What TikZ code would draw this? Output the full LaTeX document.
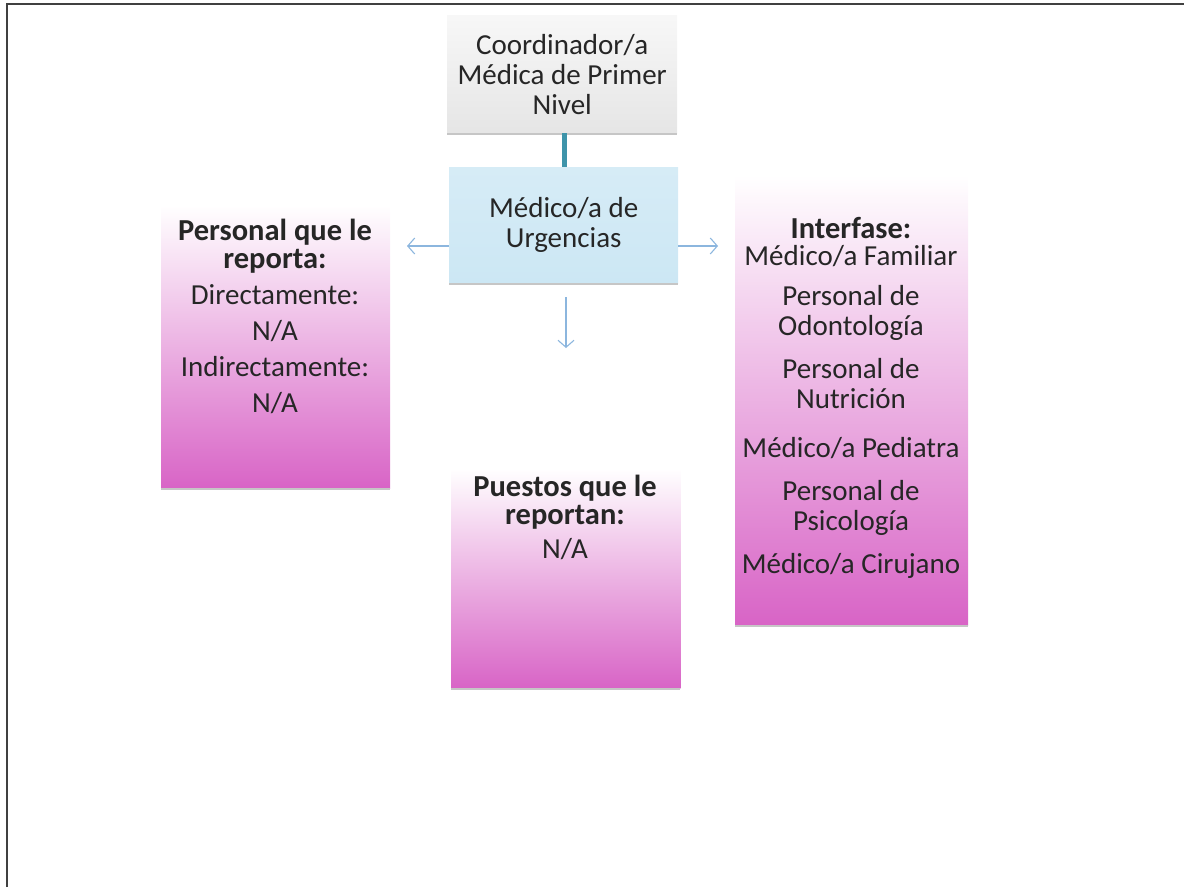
\documentclass[tikz,border=0pt]{standalone}
\usepackage{fontspec}
\setmainfont{Carlito}
\usepackage{tikz}
\usetikzlibrary{arrows.meta}
\definecolor{boxpink}{RGB}{216,100,198}
\definecolor{paleblue}{RGB}{204,231,244}
\definecolor{linkteal}{RGB}{62,148,170}
\definecolor{arrblue}{RGB}{140,182,222}
\definecolor{txtgray}{RGB}{38,38,38}
\tikzset{
  pinkbox/.style={inner sep=0pt, anchor=north west, top color=white, bottom color=boxpink},
  whitebox/.style={inner sep=0pt, anchor=north west, fill=white},
  graybox/.style={inner sep=0pt, anchor=north west, top color=gray!6, bottom color=gray!20},
  bluebox/.style={inner sep=0pt, anchor=north west, top color=paleblue!80, bottom color=paleblue},
  boxshadow/.style={gray!45, line width=2pt},
  link/.style={linkteal, line width=5pt},
  arr/.style={arrblue, line width=1.1pt, -{Straight Barb[length=7pt,width=16pt]}},
  lbl/.style={align=center, text=txtgray},
  head/.style={align=center, text=txtgray, font=\fontsize{30.5}{28}\bfseries}
}
\begin{document}
\begin{tikzpicture}[x=1pt,y=-1pt,every node/.style={font=\fontsize{29}{30}\selectfont}]
\useasboundingbox (0,0) rectangle (1184,887);
% frame
\draw[black!75, line width=2.5pt] (7,887) -- (7,4) -- (1184,4);

% boxes
\node[graybox, minimum width=230, minimum height=118] (coord) at (447,15) {};
\node[bluebox, minimum width=229, minimum height=116] (urg) at (449,167) {};
\node[pinkbox, minimum width=229, minimum height=283] (reporta) at (161,205) {};
\node[whitebox, minimum width=229, minimum height=326] (puestos) at (451,362) {};
\shade[top color=white, bottom color=boxpink] (puestos.south west) rectangle ([yshift=220pt]puestos.south east);
\node[pinkbox, minimum width=233, minimum height=450] (interfase) at (735,175) {};
\foreach \b in {coord,urg,reporta,puestos,interfase}
  \draw[boxshadow] ([yshift=-1pt]\b.south west) -- ([yshift=-1pt]\b.south east);

% texts
\node[lbl] (coordT) at (coord.center) {Coordinador/a\\Médica de Primer\\Nivel};
\node[lbl] (urgT) at (urg.center) {Médico/a de\\Urgencias};

\node[head] (repT) at (275,246) {Personal que le\\reporta:};
\node[lbl] (dirT) at (275,295) {Directamente:};
\node[lbl] (na1) at (275,331) {N/A};
\node[lbl] (indT) at (275,367) {Indirectamente:};
\node[lbl] (na2) at (275,403) {N/A};

\node[head] (puesT) at (565,502) {Puestos que le\\reportan:};
\node[lbl] (na3) at (565,549) {N/A};

\node[head] (intT) at (851,228) {Interfase:};
\node[lbl] (famT) at (851,256) {Médico/a Familiar};
\node[lbl] (odoT) at (851,313) {Personal de\\Odontología};
\node[lbl] (nutT) at (851,384) {Personal de\\Nutrición};
\node[lbl] (pedT) at (851,448) {Médico/a Pediatra};
\node[lbl] (psiT) at (851,508) {Personal de\\Psicología};
\node[lbl] (cirT) at (851,566) {Médico/a Cirujano};

% connectors
\coordinate (lend) at (407,246);
\coordinate (rend) at (718,246);
\coordinate (dend) at (566,348);
\draw[link] (coord.south -| 564,0) -- (urg.north -| 564,0);
\draw[arr] (urg.west |- lend) -- (lend);
\draw[arr] (urg.east |- rend) -- (rend);
\draw[arr] ([yshift=-14pt]urg.south -| dend) -- (dend);
\end{tikzpicture}
\end{document}
